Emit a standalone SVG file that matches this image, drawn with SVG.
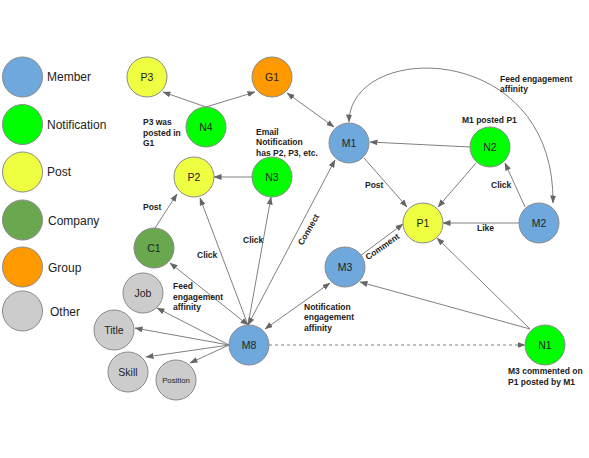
<svg xmlns="http://www.w3.org/2000/svg" width="589" height="458" viewBox="0 0 589 458">
<defs>
<marker id="ah" markerUnits="userSpaceOnUse" markerWidth="8" markerHeight="7" refX="7.5" refY="3" orient="auto-start-reverse">
<path d="M0,0 L8,3 L0,6 z" fill="#666"/>
</marker>
<style>
.e{stroke:#808080;stroke-width:1;fill:none}
.n{stroke:#8a8a8a;stroke-width:1}
.mem{fill:#6fa8dc}.not{fill:#00ff00}.pst{fill:#eeff41}.com{fill:#6aa84f}.grp{fill:#ff9900}.oth{fill:#cccccc}
.nl{font-family:"Liberation Sans",Arial,sans-serif;font-size:10.5px;fill:#222;text-anchor:middle}
.lg{font-family:"Liberation Sans",Arial,sans-serif;font-size:12px;fill:#222}
.el{font-family:"Liberation Sans",Arial,sans-serif;font-size:8.5px;font-weight:bold;fill:#222}
</style>
</defs>
<rect width="589" height="458" fill="#fff"/>
<g id="legend">
<circle class="n mem" cx="22.5" cy="77" r="20"/><text class="lg" x="47" y="81">Member</text>
<circle class="n not" cx="22.5" cy="124.5" r="20"/><text class="lg" x="47" y="128.5">Notification</text>
<circle class="n pst" cx="22.5" cy="172" r="20"/><text class="lg" x="47" y="176">Post</text>
<circle class="n com" cx="22.5" cy="220" r="20"/><text class="lg" x="48" y="225">Company</text>
<circle class="n grp" cx="22.5" cy="267" r="20"/><text class="lg" x="48" y="272">Group</text>
<circle class="n oth" cx="22.5" cy="311" r="20"/><text class="lg" x="50" y="316">Other</text>
</g>
<g id="connectors">
<path class="e" d="M349,122 C350,40 555,40 553,203" marker-start="url(#ah)" marker-end="url(#ah)"/>
<line class="e" x1="206" y1="107" x2="163" y2="92" marker-end="url(#ah)"/>
<line class="e" x1="206" y1="107" x2="255" y2="92" marker-end="url(#ah)"/>
<line class="e" x1="287" y1="93" x2="334" y2="127" marker-start="url(#ah)" marker-end="url(#ah)"/>
<line class="e" x1="252" y1="177" x2="214" y2="177" marker-end="url(#ah)"/>
<line class="e" x1="155" y1="228" x2="177" y2="194" marker-end="url(#ah)"/>
<line class="e" x1="248" y1="325" x2="200" y2="198" marker-end="url(#ah)"/>
<line class="e" x1="248" y1="325" x2="271" y2="197" marker-end="url(#ah)"/>
<line class="e" x1="248" y1="325" x2="335" y2="160" marker-start="url(#ah)" marker-end="url(#ah)"/>
<line class="e" x1="170" y1="263" x2="248" y2="325" marker-start="url(#ah)" marker-end="url(#ah)"/>
<line class="e" x1="265" y1="329" x2="330" y2="283" marker-start="url(#ah)" marker-end="url(#ah)"/>
<line class="e" x1="229" y1="345" x2="157" y2="308" marker-end="url(#ah)"/>
<line class="e" x1="229" y1="345" x2="135" y2="328" marker-end="url(#ah)"/>
<line class="e" x1="229" y1="345" x2="146" y2="357" marker-end="url(#ah)"/>
<line class="e" x1="229" y1="345" x2="190" y2="363" marker-end="url(#ah)"/>
<line class="e" x1="269" y1="345" x2="525" y2="345" stroke-dasharray="3,3" marker-end="url(#ah)"/>
<line class="e" x1="530" y1="329" x2="360" y2="282" marker-end="url(#ah)"/>
<line class="e" x1="530" y1="329" x2="437" y2="238" marker-end="url(#ah)"/>
<line class="e" x1="360" y1="256" x2="403" y2="224" marker-end="url(#ah)"/>
<line class="e" x1="364" y1="158" x2="407" y2="207" marker-end="url(#ah)"/>
<line class="e" x1="470" y1="147" x2="370" y2="142" marker-end="url(#ah)"/>
<line class="e" x1="476" y1="163" x2="438" y2="207" marker-end="url(#ah)"/>
<line class="e" x1="525" y1="207" x2="505" y2="163" marker-end="url(#ah)"/>
<line class="e" x1="519" y1="223" x2="443" y2="223" marker-end="url(#ah)"/>
</g>
<g id="edge-labels">
<text class="el" x="500" y="82">Feed engagement</text>
<text class="el" x="500" y="92">affinity</text>
<text class="el" x="462" y="123">M1 posted P1</text>
<text class="el" x="365" y="188">Post</text>
<text class="el" x="491" y="188">Click</text>
<text class="el" x="477" y="231">Like</text>
<text class="el" x="143" y="125">P3 was</text>
<text class="el" x="143" y="135.5">posted in</text>
<text class="el" x="143" y="146">G1</text>
<text class="el" x="256" y="134.5">Email</text>
<text class="el" x="256" y="145">Notification</text>
<text class="el" x="256" y="155.5">has P2, P3, etc.</text>
<text class="el" x="143" y="210">Post</text>
<text class="el" x="197" y="257.5">Click</text>
<text class="el" x="243" y="242.5">Click</text>
<text class="el" text-anchor="middle" transform="translate(311,231) rotate(-60)">Connect</text>
<text class="el" text-anchor="middle" transform="translate(384,249) rotate(-35)">Comment</text>
<text class="el" x="173" y="289">Feed</text>
<text class="el" x="173" y="299.5">engagement</text>
<text class="el" x="173" y="310">affinity</text>
<text class="el" x="304" y="309.5">Notification</text>
<text class="el" x="304" y="320">engagement</text>
<text class="el" x="304" y="330.5">affinity</text>
<text class="el" x="508" y="374">M3 commented on</text>
<text class="el" x="508" y="384.5">P1 posted by M1</text>
</g>
<g id="P3"><circle class="n pst" cx="147" cy="77" r="20"/><text class="nl" x="147" y="81">P3</text></g>
<g id="G1"><circle class="n grp" cx="272" cy="77" r="20"/><text class="nl" x="272" y="81">G1</text></g>
<g id="N4"><circle class="n not" cx="206" cy="127" r="20"/><text class="nl" x="206" y="131">N4</text></g>
<g id="P2"><circle class="n pst" cx="194" cy="177" r="20"/><text class="nl" x="194" y="181">P2</text></g>
<g id="N3"><circle class="n not" cx="272" cy="177" r="20"/><text class="nl" x="272" y="181">N3</text></g>
<g id="M1"><circle class="n mem" cx="349" cy="143" r="20"/><text class="nl" x="349" y="147">M1</text></g>
<g id="N2"><circle class="n not" cx="490" cy="147" r="20"/><text class="nl" x="490" y="151">N2</text></g>
<g id="P1"><circle class="n pst" cx="423" cy="223" r="20"/><text class="nl" x="423" y="227">P1</text></g>
<g id="M2"><circle class="n mem" cx="539" cy="223" r="20"/><text class="nl" x="539" y="227">M2</text></g>
<g id="M3"><circle class="n mem" cx="345" cy="267" r="20"/><text class="nl" x="345" y="271">M3</text></g>
<g id="N1"><circle class="n not" cx="545" cy="345" r="20"/><text class="nl" x="545" y="349">N1</text></g>
<g id="M8"><circle class="n mem" cx="249" cy="345" r="20"/><text class="nl" x="249" y="349">M8</text></g>
<g id="C1"><circle class="n com" cx="154" cy="248" r="20"/><text class="nl" x="154" y="252">C1</text></g>
<g id="Job"><circle class="n oth" cx="143" cy="293" r="20"/><text class="nl" x="143" y="297">Job</text></g>
<g id="Title"><circle class="n oth" cx="114" cy="330" r="20"/><text class="nl" x="114" y="334">Title</text></g>
<g id="Skill"><circle class="n oth" cx="128" cy="372" r="20"/><text class="nl" x="128" y="376">Skill</text></g>
<g id="Position"><circle class="n oth" cx="176" cy="380" r="20"/><text class="nl" x="176" y="383" style="font-size:7.8px">Position</text></g>
</svg>
